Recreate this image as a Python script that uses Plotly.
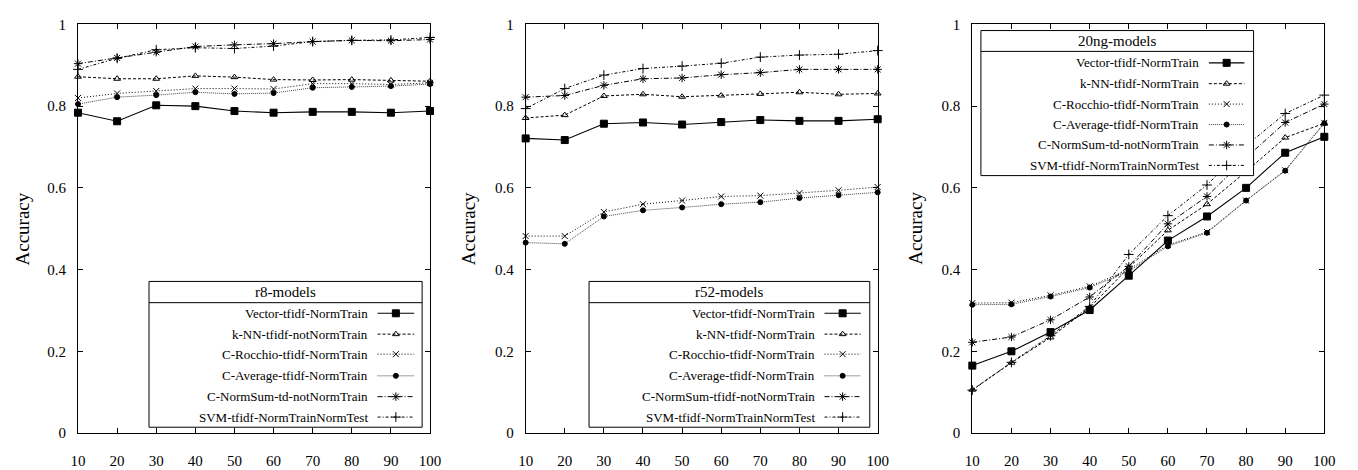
import plotly.graph_objects as go

# ---------------- data ----------------
x_vals = [10, 20, 30, 40, 50, 60, 70, 80, 90, 100]

series_names_r8 = ["Vector-tfidf-NormTrain", "k-NN-tfidf-notNormTrain", "C-Rocchio-tfidf-NormTrain",
                   "C-Average-tfidf-NormTrain", "C-NormSum-td-notNormTrain", "SVM-tfidf-NormTrainNormTest"]
series_names_r52 = ["Vector-tfidf-NormTrain", "k-NN-tfidf-NormTrain", "C-Rocchio-tfidf-NormTrain",
                    "C-Average-tfidf-NormTrain", "C-NormSum-tfidf-notNormTrain", "SVM-tfidf-NormTrainNormTest"]
series_names_20ng = ["Vector-tfidf-NormTrain", "k-NN-tfidf-NormTrain", "C-Rocchio-tfidf-NormTrain",
                     "C-Average-tfidf-NormTrain", "C-NormSum-td-notNormTrain", "SVM-tfidf-NormTrainNormTest"]

r8_vector = [0.784, 0.763, 0.802, 0.800, 0.788, 0.784, 0.786, 0.786, 0.784, 0.788]
r8_knn = [0.872, 0.867, 0.867, 0.874, 0.871, 0.865, 0.864, 0.865, 0.863, 0.861]
r8_rocchio = [0.820, 0.831, 0.837, 0.843, 0.843, 0.842, 0.855, 0.855, 0.853, 0.857]
r8_average = [0.805, 0.822, 0.827, 0.834, 0.830, 0.832, 0.845, 0.847, 0.849, 0.854]
r8_normsum = [0.904, 0.918, 0.932, 0.946, 0.950, 0.953, 0.958, 0.961, 0.960, 0.963]
r8_svm = [0.890, 0.917, 0.938, 0.943, 0.941, 0.947, 0.958, 0.961, 0.962, 0.968]

r52_vector = [0.721, 0.717, 0.757, 0.760, 0.755, 0.761, 0.766, 0.764, 0.764, 0.768]
r52_knn = [0.771, 0.778, 0.825, 0.829, 0.823, 0.826, 0.830, 0.834, 0.829, 0.831]
r52_rocchio = [0.482, 0.482, 0.541, 0.560, 0.569, 0.579, 0.581, 0.587, 0.594, 0.602]
r52_average = [0.466, 0.463, 0.530, 0.545, 0.552, 0.560, 0.565, 0.575, 0.582, 0.589]
r52_normsum = [0.822, 0.826, 0.851, 0.867, 0.869, 0.877, 0.882, 0.890, 0.890, 0.890]
r52_svm = [0.794, 0.843, 0.876, 0.892, 0.898, 0.905, 0.920, 0.925, 0.927, 0.936]

ng_vector = [0.165, 0.200, 0.247, 0.301, 0.385, 0.471, 0.530, 0.600, 0.686, 0.725]
ng_knn = [0.106, 0.172, 0.234, 0.307, 0.405, 0.496, 0.560, 0.640, 0.723, 0.758]
ng_rocchio = [0.318, 0.319, 0.337, 0.359, 0.400, 0.460, 0.492, 0.569, 0.643, 0.759]
ng_average = [0.314, 0.315, 0.334, 0.356, 0.396, 0.457, 0.490, 0.569, 0.642, 0.758]
ng_normsum = [0.222, 0.235, 0.277, 0.333, 0.408, 0.512, 0.579, 0.674, 0.760, 0.805]
ng_svm = [0.105, 0.173, 0.238, 0.310, 0.437, 0.532, 0.607, 0.703, 0.782, 0.827]

panel_titles = ["r8-models", "r52-models", "20ng-models"]
y_ticks = [0, 0.2, 0.4, 0.6, 0.8, 1]

# ---------------- styles ----------------
styles = [
    dict(dash="solid", symbol="square", size=7, color="black", lw=1.1),
    dict(dash="3px,2px", symbol="triangle-up-open", size=6, color="black", lw=1),
    dict(dash="1px,2px", symbol="x-thin-open", size=6, color="black", lw=1),
    dict(dash="1px,1px", symbol="circle", size=5, color="#444444", lw=1),
    dict(dash="5px,2px,1px,2px", symbol="asterisk-open", size=7, color="black", lw=1),
    dict(dash="3px,2px,1px,2px", symbol="cross-thin-open", size=7, color="black", lw=1),
]

panels = [
    (series_names_r8, [r8_vector, r8_knn, r8_rocchio, r8_average, r8_normsum, r8_svm]),
    (series_names_r52, [r52_vector, r52_knn, r52_rocchio, r52_average, r52_normsum, r52_svm]),
    (series_names_20ng, [ng_vector, ng_knn, ng_rocchio, ng_average, ng_normsum, ng_svm]),
]

W, H = 1358, 470
x_left_px = [71, 525, 978]
axis_w_px = 357
y_top_px, y_bot_px = 17, 440
ydom = [1 - y_bot_px / H, 1 - y_top_px / H]

# legend geometry (fractions of each axis domain)
leg_geo = [
    dict(x0=0.2017, x1=0.9776, top=0.371, sep=0.319, bot=0.0142, title=0.345, text_r=0.829, s0=0.851, s1=0.955,
         rows=[0.293, 0.242, 0.193, 0.140, 0.089, 0.039]),
    dict(x0=0.1801, x1=0.9776, top=0.371, sep=0.319, bot=0.0142, title=0.345, text_r=0.828, s0=0.849, s1=0.952,
         rows=[0.293, 0.242, 0.193, 0.140, 0.089, 0.039]),
    dict(x0=0.0244, x1=0.799, top=0.985, sep=0.934, bot=0.630, title=0.960, text_r=0.650, s0=0.672, s1=0.773,
         rows=[0.906, 0.855, 0.805, 0.755, 0.705, 0.655]),
]
ylabel_x_px = [15, 467, 921]

fig = go.Figure()
FONT = "Liberation Serif, Times New Roman, Times, serif"
layout = dict(
    width=W, height=H, margin=dict(l=0, r=0, t=0, b=0),
    paper_bgcolor="white", plot_bgcolor="white", showlegend=False,
    font=dict(family=FONT, size=14, color="black"),
)
annotations = []

for p, (names, data) in enumerate(panels):
    i = p + 1
    xs = "x" if i == 1 else f"x{i}"
    ys = "y" if i == 1 else f"y{i}"
    dom = [x_left_px[p] / W, (x_left_px[p] + axis_w_px) / W]
    common = dict(showgrid=False, zeroline=False, showline=True, linecolor="black", linewidth=1,
                  mirror="ticks", ticks="inside", ticklen=5, tickcolor="black", tickwidth=1,
                  tickfont=dict(family=FONT, size=15, color="black"))
    layout[f"xaxis{'' if i == 1 else i}"] = dict(domain=dom, anchor=ys, range=[10, 100], tickvals=x_vals,
                                                 ticklabelstandoff=14, **common)
    layout[f"yaxis{'' if i == 1 else i}"] = dict(domain=ydom, anchor=xs, range=[0, 1], tickvals=y_ticks,
                                                 ticklabelstandoff=8, **common)

    for name, vals, st in zip(names, data, styles):
        fig.add_trace(go.Scatter(
            x=x_vals, y=vals, mode="lines+markers", name=name, xaxis=xs, yaxis=ys, cliponaxis=False,
            line=dict(color=st["color"], width=st["lw"], dash=st["dash"]),
            marker=dict(symbol=st["symbol"], size=st["size"], color="black", line=dict(color="black", width=1)),
        ))

    # overlay axes in domain units for the legend box and samples
    j = i + 3
    ox, oy = f"x{j}", f"y{j}"
    layout[f"xaxis{j}"] = dict(overlaying=xs, anchor=oy, range=[0, 1], visible=False)
    layout[f"yaxis{j}"] = dict(overlaying=ys, anchor=ox, range=[0, 1], visible=False)

    g = leg_geo[p]
    # opaque legend box
    fig.add_trace(go.Scatter(
        x=[g["x0"], g["x1"], g["x1"], g["x0"], g["x0"]], y=[g["bot"], g["bot"], g["top"], g["top"], g["bot"]],
        mode="lines", fill="toself", fillcolor="white", line=dict(color="black", width=1),
        xaxis=ox, yaxis=oy, hoverinfo="skip", cliponaxis=False))
    fig.add_trace(go.Scatter(
        x=[g["x0"], g["x1"]], y=[g["sep"], g["sep"]], mode="lines", line=dict(color="black", width=1),
        xaxis=ox, yaxis=oy, hoverinfo="skip", cliponaxis=False))

    xd, yd = f"{xs} domain", f"{ys} domain"
    annotations.append(dict(text=panel_titles[p], xref=xd, yref=yd, x=(g["x0"] + g["x1"]) / 2, y=g["title"],
                            showarrow=False, xanchor="center", yanchor="middle",
                            font=dict(family=FONT, size=15, color="black")))
    for k, (name, st) in enumerate(zip(names, styles)):
        annotations.append(dict(text=name, xref=xd, yref=yd, x=g["text_r"], y=g["rows"][k],
                                showarrow=False, xanchor="right", yanchor="middle",
                                font=dict(family=FONT, size=13, color="black")))
        fig.add_trace(go.Scatter(
            x=[g["s0"], g["s1"]], y=[g["rows"][k]] * 2, mode="lines", xaxis=ox, yaxis=oy, hoverinfo="skip",
            line=dict(color=st["color"], width=st["lw"], dash=st["dash"]), cliponaxis=False))
        fig.add_trace(go.Scatter(
            x=[(g["s0"] + g["s1"]) / 2], y=[g["rows"][k]], mode="markers", xaxis=ox, yaxis=oy, hoverinfo="skip",
            marker=dict(symbol=st["symbol"], size=st["size"], color="black", line=dict(color="black", width=1)),
            cliponaxis=False))

    annotations.append(dict(text="Accuracy", xref="paper", yref="paper", x=ylabel_x_px[p] / W,
                            y=1 - ((y_top_px + y_bot_px) / 2) / H, textangle=-90, showarrow=False,
                            xanchor="center", yanchor="middle", font=dict(family=FONT, size=19, color="black")))

layout["annotations"] = annotations
fig.update_layout(**layout)
fig.write_html("out.html")
